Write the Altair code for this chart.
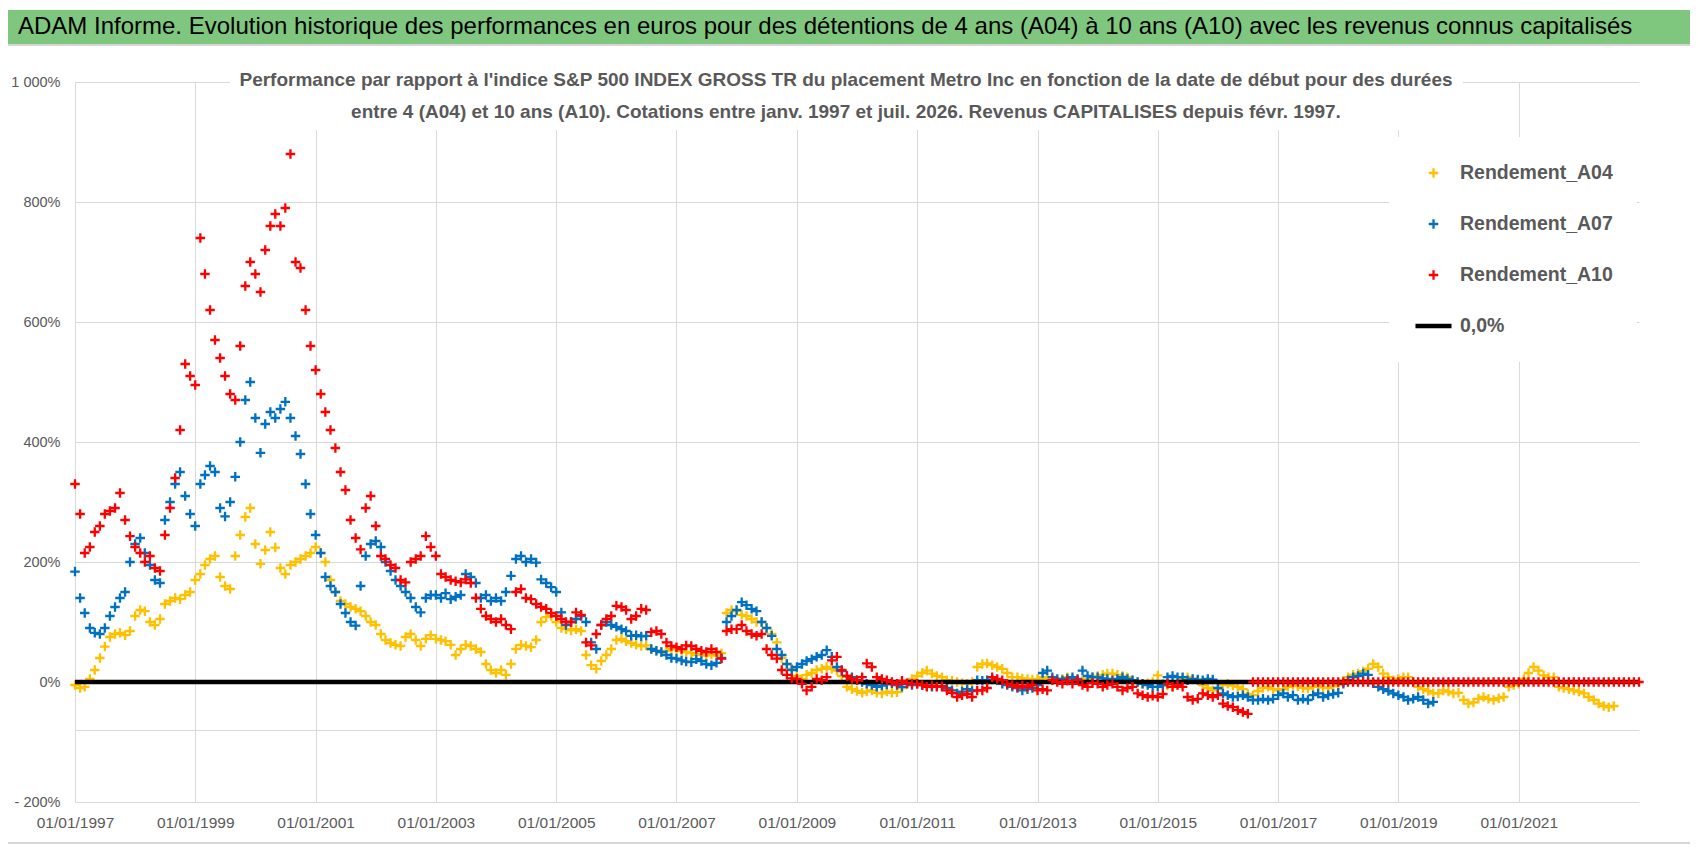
import altair as alt
import pandas as pd

# Valeurs mensuelles (%), à partir de janv. 1997
# Rendement_A04 : janv. 1997 -> août 2022
a04 = [
    -5, -10, -8, 5, 20, 40, 59, 75, 80, 82, 78, 85,            # 1997
    110, 120, 118, 100, 95, 105, 130, 135, 140, 138, 145, 150,  # 1998
    170, 180, 195, 205, 210, 175, 160, 155, 210, 245, 275, 290, # 1999
    230, 197, 220, 250, 224, 190, 180, 195, 200, 205, 210, 215, # 2000
    225, 215, 200, 170, 150, 135, 130, 125, 122, 118, 110, 100, # 2001
    95, 80, 70, 65, 62, 60, 75, 80, 70, 60, 72, 78,             # 2002
    72, 70, 68, 62, 45, 55, 62, 60, 55, 50, 30, 20,             # 2003
    15, 20, 12, 30, 55, 62, 60, 58, 70, 100, 108, 110,          # 2004
    100, 90, 88, 86, 88, 85, 45, 28, 22, 35, 45, 55,            # 2005
    70, 72, 68, 65, 62, 60, 61, 55, 52, 50, 52, 55,             # 2006
    55, 52, 50, 48, 45, 47, 44, 46, 44, 48, 115, 120,           # 2007
    118, 112, 110, 105, 100, 100, 90, 80, 66, 40, 30, 22,       # 2008
    10, 5, 12, 15, 20, 22, 25, 22, 19, 10, -8, -12,             # 2009
    -15, -18, -16, -14, -18, -19, -16, -18, -17, -10, -3, 5,    # 2010
    10, 15, 19, 14, 10, 8, 3, 2, 0, -2, -3, 0,                  # 2011
    25, 30, 31, 28, 25, 22, 15, 8, 8, 6, 5, 4,                  # 2012
    5, 8, 6, 4, 3, 5, 8, 6, 4, 3, 5, 8,                         # 2013
    10, 12, 14, 14, 12, 10, 8, 3, 0, -3, -2, 0,                 # 2014
    11, -3, -6, -8, -5, 5, 8, 5, 3, -5, -10, -14,               # 2015
    -12, -5, -3, -6, -8, -12, -20, -22, -15, -10, -8, -12,      # 2016
    -14, -12, -8, -5, -7, -10, -11, -8, -6, -9, -10, -7,        # 2017
    -5, 2, 8, 12, 14, 18, 22, 30, 25, 14, 8, 3,                 # 2018
    5, 8, 8, 0, -8, -12, -15, -19, -19, -14, -16, -19,          # 2019
    -18, -30, -36, -34, -28, -25, -28, -30, -27, -25, -8, -5,   # 2020
    -3, 5, 15, 25, 19, 11, 8, 8, -8, -10, -12, -14,             # 2021
    -16, -19, -25, -30, -36, -40, -42, -40,                     # 2022
]

# Rendement_A07 : janv. 1997 -> août 2019
a07 = [
    184, 140, 115, 90, 82, 80, 90, 110, 125, 140, 150, 200,     # 1997
    230, 240, 215, 195, 170, 165, 270, 300, 330, 350, 310, 280, # 1998
    260, 330, 345, 360, 350, 290, 276, 300, 342, 400, 470, 500, # 1999
    440, 382, 430, 450, 440, 455, 467, 440, 410, 380, 330, 280, # 2000
    245, 215, 175, 160, 150, 130, 115, 100, 94, 160, 210, 230,  # 2001
    235, 225, 200, 185, 170, 160, 150, 140, 125, 116, 140, 145, # 2002
    145, 140, 148, 138, 142, 145, 180, 175, 165, 140, 145, 135, # 2003
    140, 135, 150, 177, 205, 210, 200, 205, 199, 171, 165, 158, # 2004
    150, 116, 95, 100, 105, 110, 100, 66, 55, 95, 100, 95,      # 2005
    92, 88, 85, 77, 78, 76, 77, 55, 52, 50, 45, 40,             # 2006
    39, 36, 34, 33, 38, 35, 30, 28, 32, 40, 100, 110,           # 2007
    120, 133, 128, 122, 118, 100, 90, 77, 55, 45, 30, 20,       # 2008
    25, 30, 35, 38, 42, 45, 53, 42, 25, 18, 10, 8,              # 2009
    3, 0, -3, -5, -8, -6, -4, -2, -5, -8, -3, -5,               # 2010
    -3, -5, -6, -8, -7, -8, -10, -14, -19, -16, -12, -15,       # 2011
    3, 2, 3, 4, 3, -3, -5, -8, -10, -14, -12, -10,              # 2012
    -5, 15, 19, 8, 5, 3, 6, 8, 5, 19, 10, 8,                    # 2013
    8, 6, 5, 3, 5, 8, 5, 3, 0, -3, -5, -8,                      # 2014
    -8, -5, 8, 10, 8, 8, 3, 5, 4, 3, 5, 4,                      # 2015
    -10, -19, -22, -25, -24, -22, -25, -30, -30, -28, -30, -28, # 2016
    -22, -19, -25, -22, -30, -28, -30, -22, -19, -25, -22, -20, # 2017
    -18, -3, 3, 8, 10, 14, 12, -2, -8, -12, -15, -19,           # 2018
    -22, -25, -30, -28, -25, -30, -36, -33,                     # 2019
]

# Rendement_A10 : janv. 1997 -> janv. 2023 (0 après juil. 2016)
a10 = [
    330, 280, 215, 225, 250, 260, 280, 285, 290, 315, 270, 243, # 1997
    225, 215, 200, 210, 190, 185, 245, 290, 340, 420, 530, 510, # 1998
    495, 740, 680, 620, 570, 540, 510, 480, 470, 560, 660, 700, # 1999
    680, 650, 720, 760, 780, 760, 790, 880, 700, 690, 620, 560, # 2000
    520, 480, 450, 420, 390, 350, 320, 270, 240, 221, 290, 310, # 2001
    260, 210, 205, 195, 190, 170, 166, 200, 205, 210, 243, 225, # 2002
    210, 180, 175, 170, 168, 166, 171, 165, 140, 122, 110, 105, # 2003
    100, 105, 95, 88, 150, 155, 140, 138, 130, 125, 122, 115,   # 2004
    110, 105, 100, 100, 116, 112, 66, 61, 80, 95, 105, 110,     # 2005
    127, 125, 120, 105, 110, 122, 120, 83, 85, 80, 66, 60,      # 2006
    58, 55, 61, 60, 55, 52, 50, 55, 50, 39, 85, 88,             # 2007
    88, 95, 85, 80, 77, 80, 55, 45, 39, 20, 12, 6,              # 2008
    5, -3, -14, -8, 5, 3, 8, 36, 42, 20, 10, 5,                 # 2009
    3, 8, 31, 25, 8, 5, 3, 0, -3, 2, -2, -3,                    # 2010
    -3, -5, -8, -6, -8, -7, -14, -18, -25, -22, -20, -25,       # 2011
    -14, -14, -10, 8, 5, 3, -3, -5, -8, -6, -8, -5,             # 2012
    -14, -12, -14, 3, 0, -3, 2, -3, 3, -5, -8, -2,              # 2013
    -3, -8, -5, -3, -8, -14, -10, -8, -19, -22, -25, -23,       # 2014
    -25, -20, -3, -8, -5, -8, -25, -30, -28, -19, -22, -25,     # 2015
    -22, -36, -40, -42, -47, -50, -53, 0, 0, 0, 0, 0,           # 2016
    0, 0, 0, 0, 0, 0, 0, 0, 0, 0, 0, 0,                         # 2017
    0, 0, 0, 0, 0, 0, 0, 0, 0, 0, 0, 0,                         # 2018
    0, 0, 0, 0, 0, 0, 0, 0, 0, 0, 0, 0,                         # 2019
    0, 0, 0, 0, 0, 0, 0, 0, 0, 0, 0, 0,                         # 2020
    0, 0, 0, 0, 0, 0, 0, 0, 0, 0, 0, 0,                         # 2021
    0, 0, 0, 0, 0, 0, 0, 0, 0, 0, 0, 0,                         # 2022
    0,                                                          # 2023
]

annees_axe = [1997, 1999, 2001, 2003, 2005, 2007, 2009, 2011, 2013, 2015, 2017, 2019, 2021]
graduations_y = [-200, -80, 0, 200, 400, 600, 800, 1000]

noms = ["Rendement_A04", "Rendement_A07", "Rendement_A10", "0,0%"]
couleurs = ["#FFC000", "#0070C0", "#FF0000", "#000000"]

TITRE = ("ADAM Informe. Evolution historique des performances en euros pour des détentions "
         "de 4 ans (A04) à 10 ans (A10) avec les revenus connus capitalisés")
SOUS_TITRE_1 = ("Performance par rapport à l'indice S&P 500 INDEX GROSS TR  du placement Metro Inc "
                "en fonction de la date de début pour des durées")
SOUS_TITRE_2 = ("entre 4 (A04) et 10 ans (A10).  Cotations entre janv. 1997 et juil. 2026. "
                "Revenus CAPITALISES depuis févr. 1997.")

POLICE = "Liberation Sans"
GRIS = "#595959"
GRILLE = "#D9D9D9"
CROIX = "M-1,0H1M0,-1V1"


def mensuel(nom, valeurs):
    return pd.DataFrame({
        "date": pd.date_range("1997-01-01", periods=len(valeurs), freq="MS"),
        "valeur": valeurs,
        "serie": nom,
    })


df_a04_a07 = pd.concat([mensuel(noms[0], a04), mensuel(noms[1], a07)])
df_a10 = mensuel(noms[2], a10)
df_zero = pd.DataFrame({"valeur": [0.0], "serie": [noms[3]]})
fond = pd.DataFrame({"k": [0]})

legende = alt.Legend(
    title=None, orient="none", legendX=1314, legendY=55,
    fillColor="white", padding=24, rowPadding=27, clipHeight=24, labelOffset=6,
    labelLimit=400, labelFont=POLICE, labelFontSize=19.5, labelFontWeight="bold",
    labelColor=GRIS,
)

couleur = alt.Color("serie:N", scale=alt.Scale(domain=noms, range=couleurs), legend=legende)
forme = alt.Shape("serie:N", scale=alt.Scale(domain=noms, range=[CROIX, CROIX, CROIX, "stroke"]),
                  legend=legende)
taille = alt.Size("serie:N", scale=alt.Scale(type="ordinal", domain=noms, range=[90, 90, 90, 1300]),
                  legend=legende)
epaisseur = alt.StrokeWidth("serie:N",
                            scale=alt.Scale(type="ordinal", domain=noms, range=[2.3, 2.3, 2.3, 4.5]),
                            legend=legende)

axe_x = alt.X(
    "date:T",
    scale=alt.Scale(domain=[alt.DateTime(year=1997, month=1, date=1),
                            alt.DateTime(year=2023, month=1, date=1)]),
    axis=alt.Axis(
        values=[alt.DateTime(year=a, month=1, date=1) for a in annees_axe],
        format="%d/%m/%Y", title=None, domain=False, ticks=False, labelAngle=0,
        labelOverlap=False, labelFlush=False, gridColor=GRILLE, labelFont=POLICE,
        labelFontSize=15.5, labelColor=GRIS, labelPadding=13,
    ),
)
axe_y = alt.Y(
    "valeur:Q",
    scale=alt.Scale(domain=[-200, 1000]),
    axis=alt.Axis(
        values=graduations_y, title=None, domain=False, ticks=False, gridColor=GRILLE,
        labelExpr=("datum.value == -80 ? '' : datum.value == 1000 ? '1 000%' : "
                   "datum.value < 0 ? '- ' + abs(datum.value) + '%' : datum.value + '%'"),
        labelFont=POLICE, labelFontSize=14.5, labelColor=GRIS, labelPadding=15,
    ),
)

# décor : bandeau vert, cadres, boîte du sous-titre
bandeau = alt.Chart(fond).mark_rect(color="#7FC77F").encode(
    x=alt.value(-67), x2=alt.value(1615), y=alt.value(-72), y2=alt.value(-38))
trait_haut = alt.Chart(fond).mark_rule(color="#C8C8C8", strokeWidth=1.5).encode(
    x=alt.value(-67), x2=alt.value(1615), y=alt.value(-37))
trait_bas = alt.Chart(fond).mark_rule(color="#C8C8C8", strokeWidth=1.5).encode(
    x=alt.value(-67), x2=alt.value(1615), y=alt.value(761))
titre = alt.Chart(fond).mark_text(
    text=TITRE, align="left", baseline="middle", font=POLICE, fontSize=24, color="black"
).encode(x=alt.value(-57), y=alt.value(-55))
boite = alt.Chart(fond).mark_rect(color="white").encode(
    x=alt.value(155), x2=alt.value(1388), y=alt.value(-20), y2=alt.value(48))
st1 = alt.Chart(fond).mark_text(
    text=SOUS_TITRE_1, align="center", baseline="middle", font=POLICE, fontSize=19,
    fontWeight="bold", color=GRIS
).encode(x=alt.value(771), y=alt.value(-2))
st2 = alt.Chart(fond).mark_text(
    text=SOUS_TITRE_2, align="center", baseline="middle", font=POLICE, fontSize=19,
    fontWeight="bold", color=GRIS
).encode(x=alt.value(771), y=alt.value(30))

points_a04_a07 = alt.Chart(df_a04_a07).mark_point(filled=False, opacity=1).encode(
    x=axe_x, y=axe_y, color=couleur, shape=forme, size=taille, strokeWidth=epaisseur)
zero = alt.Chart(df_zero).mark_rule(strokeWidth=4.5).encode(y="valeur:Q", color=couleur)
points_a10 = alt.Chart(df_a10).mark_point(filled=False, opacity=1).encode(
    x=axe_x, y=axe_y, color=couleur, shape=forme, size=taille, strokeWidth=epaisseur)

chart = alt.layer(
    bandeau, trait_haut, trait_bas, titre, points_a04_a07, zero, points_a10, boite, st1, st2
).properties(
    width=1564, height=720,
    padding={"left": 67, "top": 74, "right": 51, "bottom": 46},
    autosize=alt.AutoSizeParams(type="none"),
    background="white",
).configure_view(stroke="transparent")

chart.save("out.html", embed_options={"renderer": "svg", "actions": False})
